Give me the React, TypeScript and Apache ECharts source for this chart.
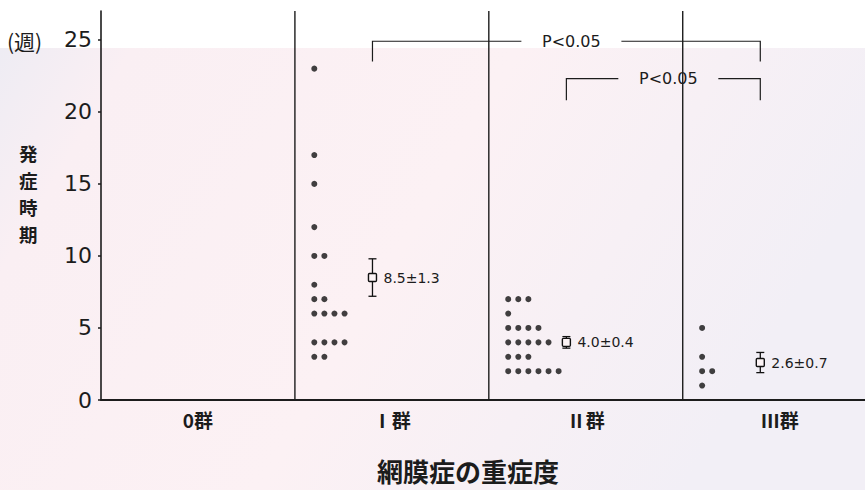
import React, { useEffect, useRef } from 'react';
import * as echarts from 'echarts';

// ---- data ----
const categories = ['0群', 'Ⅰ群', 'Ⅱ群', 'Ⅲ群'];
const yTicks = [0, 5, 10, 15, 20, 25];
const group1Weeks = [23, 17, 15, 12, 10, 10, 8, 7, 7, 6, 6, 6, 6, 4, 4, 4, 4, 3, 3];
const group2Weeks = [7, 7, 7, 6, 5, 5, 5, 5, 4, 4, 4, 4, 4, 3, 3, 3, 2, 2, 2, 2, 2, 2];
const group3Weeks = [5, 3, 2, 2, 1];
const groupMeans = [8.5, 4.0, 2.6];
const groupSE = [1.3, 0.4, 0.7];
const meanLabels = ['8.5±1.3', '4.0±0.4', '2.6±0.7'];
const comparisons = [
  [1, 3],
  [2, 3],
];
const comparisonLabels = ['P<0.05', 'P<0.05'];
const yTitleChars = ['発', '症', '時', '期'];

// ---- layout (not data) ----
const FONT = '"Noto Sans CJK JP", "Noto Sans", sans-serif';
const NUM_FONT = '"DejaVu Sans", sans-serif';
const INK = '#1c1c1c';
const DOT_START = 0.1;
const DOT_STEP = 0.052;
const MEAN_OFFSET = 0.4;
const BRACKET_LEVELS = [
  [24.9, 23.5],
  [22.3, 20.8],
];
const BRACKET_GAP = 50;
const Y_MAX = 27;
const X_MAX = 3.94;

function buildDots(): number[][] {
  const groups = [group1Weeks, group2Weeks, group3Weeks];
  const pts: number[][] = [];
  groups.forEach((vals, gi) => {
    const counts: Record<number, number> = {};
    vals.forEach((v) => {
      const col = counts[v] || 0;
      counts[v] = col + 1;
      pts.push([gi + 1 + DOT_START + col * DOT_STEP, v]);
    });
  });
  return pts;
}

export default function App() {
  const ref = useRef<HTMLDivElement>(null);

  useEffect(() => {
    if (!ref.current) return;
    const chart = echarts.init(ref.current, undefined, { renderer: 'svg' });

    const meanData = groupMeans.map((m, i) => [i + 1 + MEAN_OFFSET, m, groupSE[i]]);
    const bracketData = comparisons.map((c, i) => [
      c[0] + MEAN_OFFSET,
      c[1] + MEAN_OFFSET,
      BRACKET_LEVELS[i][0],
      BRACKET_LEVELS[i][1],
    ]);
    const dividerData = [[1], [2], [3]];

    const yTitle = yTitleChars.map((ch, i) => ({
      type: 'text',
      left: 19,
      top: 144 + i * 27,
      style: { text: ch, fill: INK, fontSize: 18.5, fontFamily: FONT, fontWeight: 'bold' },
    }));

    const option: any = {
      animation: false,
      backgroundColor: '#ffffff',
      graphic: [
        {
          type: 'rect',
          z: -100,
          silent: true,
          shape: { x: 0, y: 48, width: 865, height: 442 },
          style: {
            fill: new echarts.graphic.LinearGradient(0, 0, 1, 0.3, [
              { offset: 0, color: '#eeecf3' },
              { offset: 0.14, color: '#faeff3' },
              { offset: 0.55, color: '#fcf1f4' },
              { offset: 1, color: '#f2eff6' },
            ]),
          },
        },
        {
          type: 'text',
          left: 7,
          top: 30,
          style: { text: '(週)', fill: INK, fontSize: 21, fontFamily: FONT },
        },
        ...yTitle,
        {
          type: 'text',
          left: 377,
          top: 457,
          style: {
            text: '網膜症の重症度',
            fill: INK,
            fontSize: 26,
            fontFamily: FONT,
            fontWeight: 'bold',
          },
        },
      ],
      grid: { left: 101, right: 0, top: 11, bottom: 90, outerBoundsMode: 'none' },
      xAxis: {
        type: 'value',
        min: 0,
        max: X_MAX,
        splitLine: { show: false },
        axisTick: { show: false },
        axisLine: { show: true, onZero: false, lineStyle: { color: INK, width: 2 } },
        axisLabel: {
          customValues: categories.map((_, i) => i + 0.5),
          formatter: (v: number) => {
            const i = Math.round(v - 0.5);
            return Math.abs(v - (i + 0.5)) < 1e-6 && categories[i] ? categories[i] : '';
          },
          color: INK,
          fontSize: 19,
          fontFamily: FONT,
          fontWeight: 'bold',
          margin: 10,
        },
      },
      yAxis: {
        type: 'value',
        min: 0,
        max: Y_MAX,
        interval: 5,
        splitLine: { show: false },
        axisLine: { show: true, lineStyle: { color: INK, width: 1.6 } },
        axisTick: {
          show: true,
          length: 3,
          customValues: yTicks,
          lineStyle: { color: INK, width: 1.5 },
        },
        axisLabel: {
          customValues: yTicks,
          formatter: (v: number) => (yTicks.indexOf(v) >= 0 ? String(v) : ''),
          color: INK,
          fontSize: 22,
          fontFamily: NUM_FONT,
          margin: 9,
        },
      },
      series: [
        {
          type: 'custom',
          name: 'dividers',
          silent: true,
          data: dividerData,
          encode: { x: 0 },
          renderItem: (params: any, api: any) => {
            const x = api.value(0);
            const p0 = api.coord([x, 0]);
            const p1 = api.coord([x, Y_MAX]);
            return {
              type: 'line',
              shape: { x1: p0[0], y1: p0[1], x2: p1[0], y2: p1[1] },
              style: { stroke: INK, lineWidth: 1.4 },
            };
          },
        },
        {
          type: 'scatter',
          name: 'cases',
          data: buildDots(),
          symbol: 'circle',
          symbolSize: 6,
          itemStyle: { color: '#111111' },
          silent: true,
        },
        {
          type: 'custom',
          name: 'mean',
          silent: true,
          data: meanData,
          encode: { x: 0, y: 1 },
          renderItem: (params: any, api: any) => {
            const x = api.value(0);
            const m = api.value(1);
            const se = api.value(2);
            const c = api.coord([x, m]);
            const top = api.coord([x, m + se]);
            const bot = api.coord([x, m - se]);
            const ls = { stroke: '#111', lineWidth: 1.3 };
            return {
              type: 'group',
              children: [
                { type: 'line', shape: { x1: c[0], y1: top[1], x2: c[0], y2: bot[1] }, style: ls },
                { type: 'line', shape: { x1: c[0] - 4, y1: top[1], x2: c[0] + 4, y2: top[1] }, style: ls },
                { type: 'line', shape: { x1: c[0] - 4, y1: bot[1], x2: c[0] + 4, y2: bot[1] }, style: ls },
                {
                  type: 'rect',
                  shape: { x: c[0] - 4, y: c[1] - 4, width: 8, height: 8, r: 1 },
                  style: { fill: '#fdf4f6', stroke: '#111', lineWidth: 1.4 },
                },
                {
                  type: 'text',
                  x: c[0] + 11,
                  y: c[1],
                  style: {
                    text: meanLabels[params.dataIndex],
                    fill: INK,
                    fontSize: 14,
                    fontFamily: NUM_FONT,
                    align: 'left',
                    verticalAlign: 'middle',
                  },
                },
              ],
            };
          },
        },
        {
          type: 'custom',
          name: 'brackets',
          silent: true,
          data: bracketData,
          encode: { x: [0, 1], y: [2, 3] },
          renderItem: (params: any, api: any) => {
            const x1 = api.value(0);
            const x2 = api.value(1);
            const yt = api.value(2);
            const yb = api.value(3);
            const a = api.coord([x1, yt]);
            const b = api.coord([x2, yt]);
            const ab = api.coord([x1, yb]);
            const mid = (a[0] + b[0]) / 2 + 5;
            const ls = { stroke: INK, lineWidth: 1.2, fill: 'none' };
            return {
              type: 'group',
              children: [
                {
                  type: 'polyline',
                  shape: { points: [[a[0], ab[1]], [a[0], a[1]], [mid - BRACKET_GAP, a[1]]] },
                  style: ls,
                },
                {
                  type: 'polyline',
                  shape: { points: [[mid + BRACKET_GAP, b[1]], [b[0], b[1]], [b[0], ab[1]]] },
                  style: ls,
                },
                {
                  type: 'text',
                  x: mid,
                  y: a[1],
                  style: {
                    text: comparisonLabels[params.dataIndex],
                    fill: INK,
                    fontSize: 16,
                    fontFamily: NUM_FONT,
                    align: 'center',
                    verticalAlign: 'middle',
                  },
                },
              ],
            };
          },
        },
      ],
    };

    chart.setOption(option);
    return () => chart.dispose();
  }, []);

  return (
    <div
      ref={ref}
      style={{ position: 'fixed', left: 0, top: 0, width: 865, height: 490 }}
    />
  );
}
